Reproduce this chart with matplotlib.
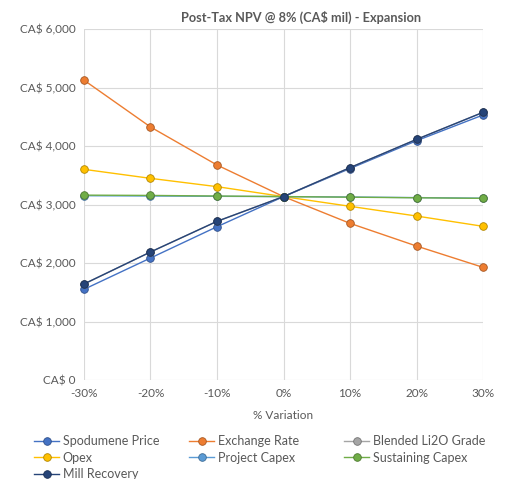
import matplotlib
matplotlib.use("Agg")
import matplotlib.pyplot as plt
from matplotlib.ticker import FuncFormatter, FixedLocator

plt.rcParams['font.family'] = ['Lato', 'DejaVu Sans']

variation = [-30, -20, -10, 0, 10, 20, 30]
x_labels = ["-30%", "-20%", "-10%", "0%", "10%", "20%", "30%"]

spodumene_price = [1550, 2085, 2620, 3135, 3615, 4090, 4530]
exchange_rate = [5125, 4325, 3675, 3135, 2678, 2290, 1926]
blended_li2o = [1641, 2188, 2712, 3135, 3630, 4113, 4575]
opex = [3601, 3447, 3305, 3135, 2969, 2803, 2627]
project_capex = [3150, 3145, 3140, 3135, 3128, 3118, 3108]
sustaining_capex = [3160, 3155, 3145, 3135, 3125, 3115, 3105]
mill_recovery = [1641, 2188, 2712, 3135, 3630, 4113, 4575]

series = [
    ("Spodumene Price", spodumene_price, "#4472C4"),
    ("Exchange Rate", exchange_rate, "#ED7D31"),
    ("Blended Li2O Grade", blended_li2o, "#A5A5A5"),
    ("Opex", opex, "#FFC000"),
    ("Project Capex", project_capex, "#5B9BD5"),
    ("Sustaining Capex", sustaining_capex, "#70AD47"),
    ("Mill Recovery", mill_recovery, "#264478"),
]

def darker(hexc, f=0.7):
    r = int(hexc[1:3], 16); g = int(hexc[3:5], 16); b = int(hexc[5:7], 16)
    return "#%02x%02x%02x" % (int(r * f), int(g * f), int(b * f))

fig = plt.figure(figsize=(5.11, 4.79), dpi=100)
ax = fig.add_axes([84 / 511, 1 - 380 / 479, (483 - 84) / 511, (380 - 29) / 479])

handles = {}
for name, vals, col in series:
    h, = ax.plot(variation, vals, color=col, lw=1.0, marker='o', markersize=5.5,
                 markerfacecolor=col, markeredgecolor=darker(col), markeredgewidth=0.6,
                 label=name, zorder=3)
    handles[name] = h

ax.set_xlim(-30, 30)
ax.set_ylim(0, 6000)
ax.xaxis.set_major_locator(FixedLocator(variation))
ax.set_xticklabels(x_labels)
ax.yaxis.set_major_locator(FixedLocator([0, 1000, 2000, 3000, 4000, 5000, 6000]))
ax.yaxis.set_major_formatter(FuncFormatter(lambda v, p: "CA$ {:,.0f}".format(v)))
ax.grid(True, color="#D9D9D9", lw=0.8)
ax.set_axisbelow(True)
for s in ax.spines.values():
    s.set_visible(False)
ax.tick_params(length=0, labelsize=8.5, colors="#595959", pad=6)
for l in ax.lines:
    l.set_clip_on(False)

ax.set_xlabel("% Variation", fontsize=8.5, color="#595959", labelpad=8)
fig.text(301 / 511, 1 - 17 / 479, "Post-Tax NPV @ 8% (CA$ mil) - Expansion",
         ha="center", va="center", fontsize=9.2, fontweight="bold", color="#595959")

cols = [
    (["Spodumene Price", "Opex", "Mill Recovery"], 34),
    (["Exchange Rate", "Project Capex"], 189),
    (["Blended Li2O Grade", "Sustaining Capex"], 344),
]
for names, xpx in cols:
    leg = fig.legend([handles[n] for n in names], names, loc="upper left",
                     bbox_to_anchor=(xpx / 511, 1 - 435 / 479), frameon=False,
                     fontsize=9, handlelength=2.0, handletextpad=0.3,
                     labelspacing=0.38, borderpad=0, borderaxespad=0)
    for t in leg.get_texts():
        t.set_color("#595959")

fig.savefig("out.png", dpi=100, facecolor="white")
